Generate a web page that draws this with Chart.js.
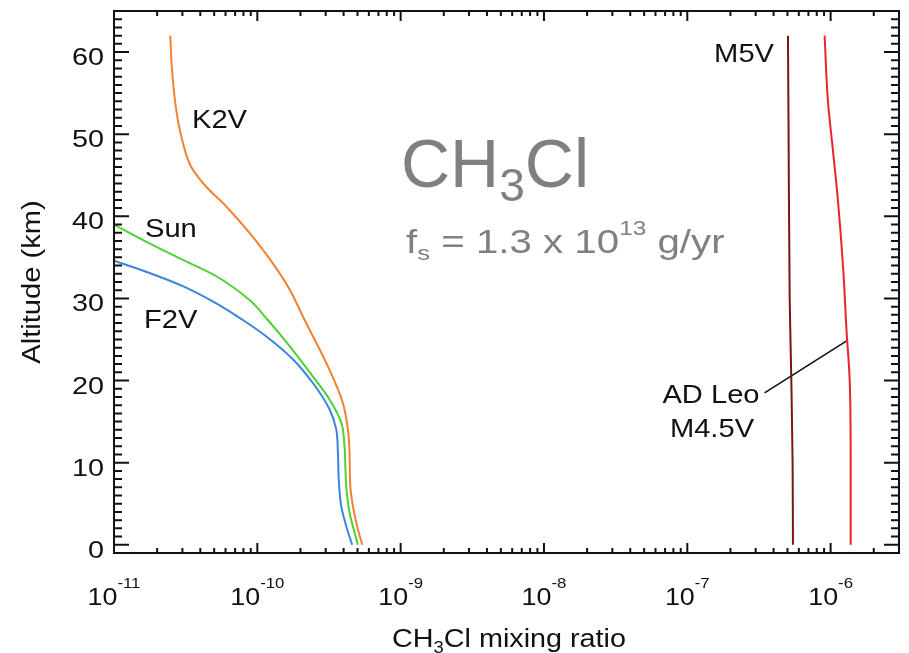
<!DOCTYPE html>
<html>
<head>
<meta charset="utf-8">
<script src="https://cdn.jsdelivr.net/npm/chart.js@4.4.1/dist/chart.umd.min.js"></script>
<style>
  html, body { margin: 0; padding: 0; background: #fff; }
</style>
</head>
<body>
<canvas id="plot" width="909" height="653"></canvas>
<script>
const plot = document.querySelector("#plot");
const ctx = plot.getContext("2d");

const FONT = '"Liberation Sans", Arial, Helvetica, sans-serif';

// altitude (km) / CH3Cl mixing ratio
const F2V_ALT = [34.6, 33.1, 31.5, 29.4, 27.4, 25.4, 22.6, 19.7, 16.5, 14.1, 11.2, 8.0, 4.7, 2.3, 0];
const F2V_MIX = [1e-11, 1.77e-11, 3.02e-11, 5.17e-11, 7.88e-11, 1.15e-10, 1.77e-10, 2.44e-10, 3.19e-10, 3.55e-10, 3.65e-10, 3.70e-10, 3.85e-10, 4.17e-10, 4.59e-10];

const SUN_ALT = [39.0, 36.7, 34.7, 32.7, 29.8, 27.4, 24.2, 20.5, 17.7, 14.9, 12.0, 9.2, 7.2, 3.9, 1.5, 0];
const SUN_MIX = [1e-11, 1.77e-11, 3.02e-11, 5.17e-11, 8.82e-11, 1.18e-10, 1.68e-10, 2.44e-10, 3.19e-10, 3.85e-10, 4.06e-10, 4.12e-10, 4.17e-10, 4.40e-10, 4.77e-10, 5.03e-10];

const K2V_ALT = [62.0, 58.2, 52.9, 49.3, 46.0, 43.6, 41.2, 37.5, 34.3, 31.1, 27.8, 21.3, 17.3, 14.1, 11.2, 7.2, 4.3, 1.9, 0];
const K2V_MIX = [2.47e-11, 2.53e-11, 2.72e-11, 2.99e-11, 3.46e-11, 4.40e-11, 6.07e-11, 9.31e-11, 1.28e-10, 1.68e-10, 2.08e-10, 3.19e-10, 3.95e-10, 4.28e-10, 4.40e-10, 4.45e-10, 4.69e-10, 5.03e-10, 5.40e-10];

const M5V_ALT = [62, 50, 30, 20, 10, 0];
const M5V_MIX = [5.04e-7, 5.09e-7, 5.18e-7, 5.32e-7, 5.43e-7, 5.46e-7];

const ADLEO_ALT = [62, 54.1, 48.1, 42.0, 33.0, 26.2, 20.1, 10.4, 0];
const ADLEO_MIX = [9.08e-7, 9.57e-7, 1.037e-6, 1.124e-6, 1.23e-6, 1.29e-6, 1.358e-6, 1.38e-6, 1.38e-6];

// pointer from the "AD Leo" label to its curve
const LEADER_ALT = [18.5, 24.9];
const LEADER_MIX = [3.46e-7, 1.31e-6];

const Y_TICKS = [0, 10, 20, 30, 40, 50, 60];
const X_TICK_EXP = [-11, -10, -9, -8, -7, -6];

const pts = (mix, alt) => mix.map((v, i) => ({ x: v, y: alt[i] }));

// profiles are smoothed along altitude (y is the index axis)
const profile = (mix, alt, color) => ({
  data: pts(mix, alt),
  indexAxis: "y",
  borderColor: color,
  borderWidth: 2,
  pointRadius: 0,
  cubicInterpolationMode: "monotone",
  fill: false
});

// draws text made of pieces (sub/superscripts), squeezed/stretched by sx
function rich(c, x, y, parts, align, sx) {
  let w = 0;
  const sized = parts.map(p => {
    c.font = p.size + "px " + FONT;
    const pw = c.measureText(p.t).width;
    w += pw;
    return { ...p, w: pw };
  });
  c.save();
  c.translate(x, y);
  c.scale(sx, 1);
  c.textAlign = "left";
  c.textBaseline = "alphabetic";
  let cx = align === "center" ? -w / 2 : align === "right" ? -w : 0;
  for (const p of sized) {
    c.font = p.size + "px " + FONT;
    c.fillText(p.t, cx, p.dy || 0);
    cx += p.w;
  }
  c.restore();
}

const frame = {
  id: "frame",
  afterDraw(chart) {
    const c = chart.ctx;
    const a = chart.chartArea;
    const xs = chart.scales.x;
    const ys = chart.scales.y;
    c.save();
    c.strokeStyle = "#111";
    c.lineWidth = 2;
    c.strokeRect(a.left, a.top, a.right - a.left, a.bottom - a.top);

    c.beginPath();
    for (let v = 0; v < 65; v++) {
      const py = ys.getPixelForValue(v);
      const len = v % 10 === 0 ? 15 : 8;
      c.moveTo(a.left, py); c.lineTo(a.left + len, py);
      c.moveTo(a.right, py); c.lineTo(a.right - len, py);
    }
    for (const e of X_TICK_EXP) {
      for (let m = 1; m <= 9; m++) {
        const v = m * Math.pow(10, e);
        if (v > xs.max) break;
        const px = xs.getPixelForValue(v);
        const len = m === 1 ? 10 : 5;
        c.moveTo(px, a.bottom); c.lineTo(px, a.bottom - len);
        c.moveTo(px, a.top); c.lineTo(px, a.top + len);
      }
    }
    c.stroke();

    c.fillStyle = "#111";
    for (const v of Y_TICKS) {
      rich(c, 104, ys.getPixelForValue(v) + 13, [{ t: String(v), size: 24 }], "right", 1.2);
    }
    for (const e of X_TICK_EXP) {
      rich(c, xs.getPixelForValue(Math.pow(10, e)), 605,
        [{ t: "10", size: 24 }, { t: String(e), size: 15, dy: -17 }], "center", 1.12);
    }

    // axis titles
    rich(c, 509, 647, [
      { t: "CH", size: 25 }, { t: "3", size: 16, dy: 6 }, { t: "Cl mixing ratio", size: 25 }
    ], "center", 1.15);
    c.save();
    c.translate(40, 282);
    c.rotate(-Math.PI / 2);
    rich(c, 0, 0, [{ t: "Altitude (km)", size: 26 }], "center", 1.12);
    c.restore();

    // curve labels
    rich(c, 192, 128, [{ t: "K2V", size: 26 }], "left", 1.12);
    rich(c, 145, 237, [{ t: "Sun", size: 26 }], "left", 1.12);
    rich(c, 144, 328, [{ t: "F2V", size: 26 }], "left", 1.12);
    rich(c, 774, 62, [{ t: "M5V", size: 26 }], "right", 1.12);
    rich(c, 711, 403, [{ t: "AD Leo", size: 26 }], "center", 1.12);
    rich(c, 712, 437, [{ t: "M4.5V", size: 26 }], "center", 1.12);

    // species annotation
    c.fillStyle = "#808080";
    rich(c, 401, 187, [
      { t: "CH", size: 68 }, { t: "3", size: 46, dy: 14 }, { t: "Cl", size: 68 }
    ], "left", 1.0);
    rich(c, 406, 253, [
      { t: "f", size: 33 }, { t: "s", size: 21, dy: 7 }, { t: " = 1.3 x 10", size: 33 },
      { t: "13", size: 20, dy: -18 }, { t: " g/yr", size: 33 }
    ], "left", 1.22);
    c.restore();
  }
};

new Chart(ctx, {
  type: "line",
  data: {
    datasets: [
      profile(K2V_MIX, K2V_ALT, "#F28232"),
      profile(SUN_MIX, SUN_ALT, "#4CD232"),
      profile(F2V_MIX, F2V_ALT, "#3C84DC"),
      profile(M5V_MIX, M5V_ALT, "#7A1616"),
      profile(ADLEO_MIX, ADLEO_ALT, "#E8262A"),
      {
        data: pts(LEADER_MIX, LEADER_ALT),
        borderColor: "#111",
        borderWidth: 1.6,
        pointRadius: 0,
        tension: 0,
        fill: false
      }
    ]
  },
  options: {
    responsive: false,
    animation: false,
    layout: { padding: { left: 114, top: 11, right: 10, bottom: 100 } },
    plugins: { legend: { display: false }, tooltip: { enabled: false } },
    scales: {
      x: { type: "logarithmic", min: 1e-11, max: 3e-6, display: false },
      y: { type: "linear", min: -1, max: 65, display: false }
    }
  },
  plugins: [frame]
});
</script>
</body>
</html>
